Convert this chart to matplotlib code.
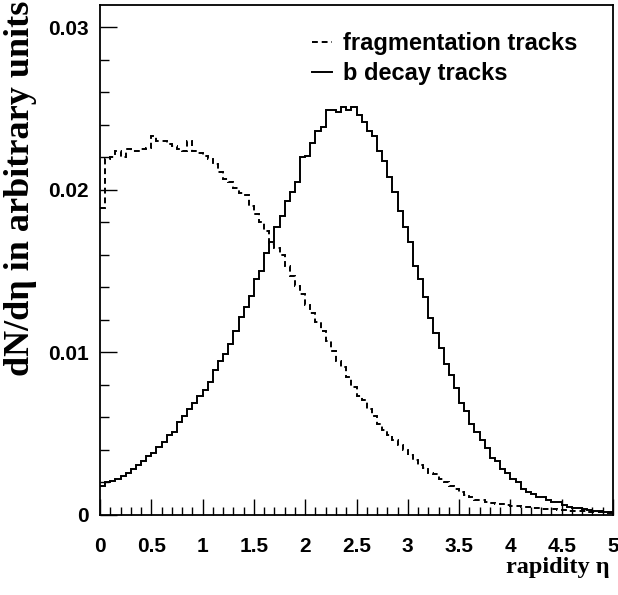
import numpy as np
import matplotlib
matplotlib.use('Agg')
import matplotlib.pyplot as plt
from matplotlib.ticker import MultipleLocator, FixedLocator

# 100 bins of rapidity, 0 < eta < 5
eta_min, eta_max, n_bins = 0.0, 5.0, 100

b_decay = [
    0.0018, 0.0020, 0.0021, 0.0022, 0.0024, 0.0026, 0.0028, 0.0031, 0.0033, 0.0036,
    0.0038, 0.0042, 0.0045, 0.0049, 0.0051, 0.0057, 0.0061, 0.0065, 0.0069, 0.0073,
    0.0077, 0.0082, 0.0089, 0.0095, 0.0099, 0.0105, 0.0113, 0.0122, 0.0128, 0.0135,
    0.0145, 0.0150, 0.0161, 0.0168, 0.0177, 0.0184, 0.0193, 0.0199, 0.0205, 0.0220,
    0.0221, 0.0229, 0.0236, 0.0239, 0.0249, 0.0249, 0.0248, 0.0251, 0.0249, 0.0251,
    0.0246, 0.0242, 0.0236, 0.0233, 0.0224, 0.0218, 0.0208, 0.0199, 0.0187, 0.0177,
    0.0168, 0.0153, 0.0145, 0.0134, 0.0121, 0.0112, 0.0103, 0.0093, 0.0086, 0.0078,
    0.0069, 0.0064, 0.0056, 0.0051, 0.0046, 0.0041, 0.0035, 0.0033, 0.0028, 0.0026,
    0.0022, 0.0020, 0.0016, 0.0014, 0.0013, 0.0011, 0.0011, 0.0009, 0.0008, 0.0008,
    0.0006, 0.0005, 0.00045, 0.0004, 0.00035, 0.0003, 0.00027, 0.00023, 0.00018, 0.00014,
]

fragmentation = [
    0.0189, 0.0219, 0.0220, 0.0224, 0.0220, 0.0225, 0.0224, 0.0224, 0.0225, 0.0226,
    0.0233, 0.0230, 0.0230, 0.0228, 0.0227, 0.0225, 0.0224, 0.0230, 0.0224, 0.0223,
    0.0221, 0.0219, 0.0216, 0.0211, 0.0207, 0.0205, 0.0201, 0.0198, 0.0197, 0.0190,
    0.0185, 0.0180, 0.0175, 0.0167, 0.0164, 0.0160, 0.0153, 0.0147, 0.0141, 0.0136,
    0.0129, 0.0124, 0.0119, 0.0113, 0.0107, 0.0101, 0.0095, 0.0091, 0.0085, 0.0079,
    0.0073, 0.0071, 0.0065, 0.0061, 0.0056, 0.0052, 0.0049, 0.0046, 0.0043, 0.0040,
    0.0037, 0.0034, 0.0031, 0.0029, 0.0026, 0.0025, 0.0022, 0.0020, 0.0018, 0.0016,
    0.0014, 0.0012, 0.0011, 0.00095, 0.00090, 0.00080, 0.00076, 0.00069, 0.00066, 0.00059,
    0.00056, 0.00054, 0.00049, 0.00047, 0.00045, 0.00043, 0.00039, 0.00037, 0.00035, 0.00033,
    0.00029, 0.00027, 0.00026, 0.00025, 0.00023, 0.00020, 0.00019, 0.00018, 0.00017, 0.00016,
]

x_ticks = [0, 0.5, 1, 1.5, 2, 2.5, 3, 3.5, 4, 4.5, 5]
x_tick_labels = ['0', '0.5', '1', '1.5', '2', '2.5', '3', '3.5', '4', '4.5', '5']
y_ticks = [0, 0.01, 0.02, 0.03]
y_tick_labels = ['0', '0.01', '0.02', '0.03']

edges = np.linspace(eta_min, eta_max, n_bins + 1)

fig = plt.figure(figsize=(6.18, 5.95), dpi=100)
ax = fig.add_axes([100/618, 80/595, 513/618, 510/595])

ax.stairs(fragmentation, edges, baseline=None, color='black', linewidth=1.4,
          linestyle=(0, (3, 2)), label='fragmentation tracks')
ax.stairs(b_decay, edges, baseline=None, color='black', linewidth=1.4,
          label='b decay tracks')

ax.set_xlim(eta_min, eta_max)
ax.set_ylim(0, 0.03138)

ax.xaxis.set_major_locator(FixedLocator(x_ticks))
ax.xaxis.set_minor_locator(MultipleLocator(0.1))
ax.yaxis.set_major_locator(FixedLocator(y_ticks))
ax.yaxis.set_minor_locator(MultipleLocator(0.002))

tick_font = dict(family='Liberation Sans', weight='bold', size=15)
ax.set_xticklabels(x_tick_labels, fontdict=tick_font)
ax.set_yticklabels(y_tick_labels, fontdict=tick_font)

ax.tick_params(which='both', direction='in', width=1, top=False, right=False)
ax.tick_params(axis='x', which='major', length=11.5, pad=16)
ax.tick_params(axis='x', which='minor', length=6)
ax.tick_params(axis='y', which='major', length=12.5, pad=8)
ax.tick_params(axis='y', which='minor', length=6.5)

for sp in ax.spines.values():
    sp.set_linewidth(1.3)

fig.text(610/618, 1 - 568/595, 'rapidity η', ha='right', va='center',
         family='Liberation Serif', weight='bold', size=17.5)
fig.text(21/618, 1 - 1/595, 'dN/dη in arbitrary units', ha='center', va='top',
         rotation=90, family='Liberation Serif', weight='bold', size=26)

ax.legend(loc='upper left', bbox_to_anchor=(212/513, 1 - 27/510), frameon=False,
          prop=dict(family='Liberation Sans', weight='bold', size=17),
          handlelength=0.85, handletextpad=0.45, labelspacing=0.3,
          borderaxespad=0, borderpad=0)

plt.savefig('out.png', dpi=100)
plt.close()
